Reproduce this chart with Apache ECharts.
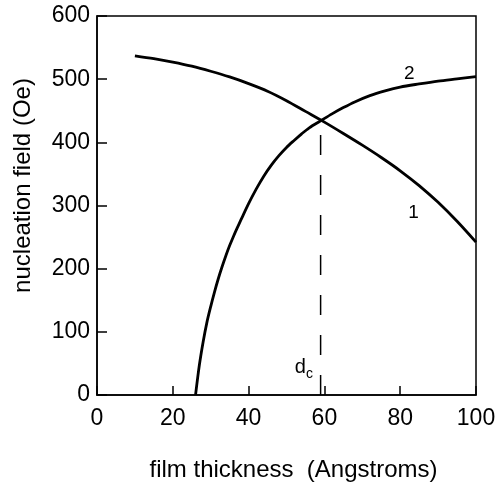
<!DOCTYPE html>
<html>
<head>
	<meta charset="utf-8">
	<title>nucleation field</title>
	<script src="https://cdn.jsdelivr.net/npm/echarts@6/dist/echarts.min.js"></script>
	<style type="text/css">
		html, body { height: 100%; margin: 0; background: #fff; }
	</style>
</head>
<body>
	<div id="main" style="width: 497px;height:483px;"></div>
	<script type="text/javascript">
	// curve 1 (film thickness, field)
	var thick1 = [10, 15, 20, 25, 30, 35, 40, 45, 50, 55, 60, 65, 70, 75, 80, 85, 90, 95, 100];
	var field1 = [537, 532.5, 527, 520.5, 512.5, 503.5, 493, 481, 466, 449, 432, 414, 395.5, 376, 355, 331.5, 305, 275, 242];
	// curve 2
	var thick2 = [26, 27, 28, 29, 30, 31, 32, 33, 34, 35, 36, 37, 38, 40, 42, 44, 46, 48, 50, 52, 54, 56, 59, 62, 65, 68, 72, 76, 80, 85, 90, 95, 100];
	var field2 = [0, 47, 84, 115, 140, 163, 184, 203, 220.5, 236.5, 251, 264.5, 277.5, 303, 326, 346.5, 364, 379, 392, 403, 413.5, 423, 434, 445, 455, 464, 474, 481.5, 487.5, 492.5, 497, 500.5, 504];
	// critical thickness d_c
	var dcThick = 59;
	var dcField = 434;
	var xTicks = [0, 20, 40, 60, 80, 100];
	var yTicks = [0, 100, 200, 300, 400, 500, 600];

	function pairs(xs, ys) {
		var out = [];
		for (var i = 0; i < xs.length; i++) {
			out.push([xs[i], ys[i]]);
		}
		return out;
	}

	var font = 'Liberation Sans';
	var dom = document.getElementById("main");
	var myChart = echarts.init(dom);
	var option = {
		animation: false,
		grid: {
			left: 97,
			right: 21,
			top: 16,
			bottom: 88,
			outerBoundsMode: 'none',
			show: true,
			borderColor: '#000',
			borderWidth: 1.5
		},
		xAxis: {
			type: 'value',
			min: xTicks[0],
			max: xTicks[xTicks.length - 1],
			interval: 20,
			name: 'film thickness  (Angstroms)',
			nameLocation: 'middle',
			nameGap: 63,
			nameTextStyle: { color: '#000', fontSize: 24, fontFamily: font, padding: [0, 0, 0, 14] },
			axisLine: { lineStyle: { color: '#000', width: 1.5 } },
			axisTick: { inside: true, length: 9, lineStyle: { color: '#000', width: 1.5 } },
			axisLabel: { color: '#000', fontSize: 23, fontFamily: font, margin: 12 },
			splitLine: { show: false }
		},
		yAxis: {
			type: 'value',
			min: yTicks[0],
			max: yTicks[yTicks.length - 1],
			interval: 100,
			name: 'nucleation field (Oe)',
			nameLocation: 'middle',
			nameGap: 62,
			nameTextStyle: { color: '#000', fontSize: 24, fontFamily: font, padding: [0, 0, 0, 40] },
			axisLine: { lineStyle: { color: '#000', width: 1.5 } },
			axisTick: { inside: true, length: 10, lineStyle: { color: '#000', width: 1.5 } },
			axisLabel: { color: '#000', fontSize: 23, fontFamily: font, margin: 7 },
			splitLine: { show: false }
		},
		series: [
			{
				name: '1',
				type: 'line',
				data: pairs(thick1, field1),
				smooth: 0.3,
				showSymbol: false,
				lineStyle: { color: '#000', width: 2.8 }
			},
			{
				name: '2',
				type: 'line',
				data: pairs(thick2, field2),
				smooth: 0.3,
				showSymbol: false,
				lineStyle: { color: '#000', width: 2.8 }
			},
			{
				name: 'dc',
				type: 'line',
				data: [[dcThick, 0], [dcThick, dcField]],
				showSymbol: false,
				lineStyle: { color: '#000', width: 1.5, type: [20, 20] }
			},
			{
				// curve labels
				type: 'scatter',
				symbolSize: 0,
				itemStyle: { opacity: 1 },
				data: [
					{ value: [83.5, 288], name: '1' },
					{ value: [82.4, 509], name: '2' },
					{ value: [54.6, 43], name: '{d|d}{c|c}' }
				],
				label: {
					show: true,
					position: 'inside',
					formatter: function (p) { return p.name; },
					color: '#000',
					opacity: 1,
					textBorderWidth: 0,
					fontSize: 19,
					fontFamily: font,
					rich: {
						d: { fontSize: 20, fontFamily: font, color: '#000', textBorderWidth: 0 },
						c: { fontSize: 14, fontFamily: font, color: '#000', textBorderWidth: 0, padding: [12, 0, 0, 0] }
					}
				}
			}
		]
	};
	myChart.setOption(option);
	</script>
</body>
</html>
